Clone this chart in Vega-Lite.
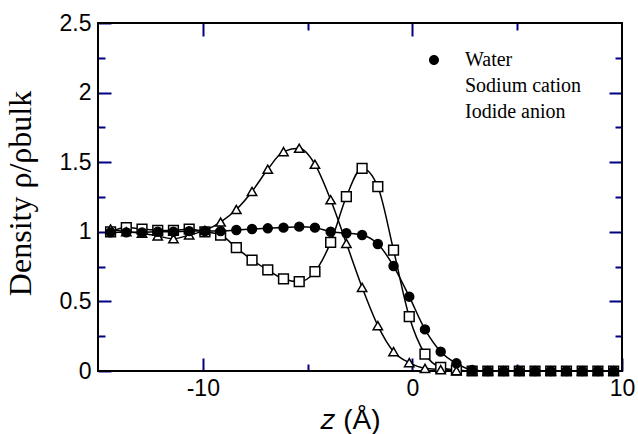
{
  "$schema": "https://vega.github.io/schema/vega-lite/v6.json",
  "width": 524,
  "height": 348,
  "autosize": {"type": "none"},
  "padding": {"left": 98, "top": 23, "right": 16, "bottom": 63},
  "config": {
    "view": {"stroke": "#000080", "strokeWidth": 2},
    "axis": {
      "grid": false,
      "domain": false,
      "labelFont": "Liberation Sans",
      "labelFontSize": 23,
      "labelColor": "black",
      "labelFlush": false,
      "labelOverlap": false,
      "titleColor": "black",
      "titleFontWeight": "normal"
    }
  },
  "data": {
    "values": [
      {"z": -14.4, "Water": 0.996, "Sodium cation": 1.02, "Iodide anion": 1.0},
      {"z": -13.65, "Water": 0.996, "Sodium cation": 1.0, "Iodide anion": 1.03},
      {"z": -12.9, "Water": 0.996, "Sodium cation": 0.99, "Iodide anion": 1.02},
      {"z": -12.15, "Water": 1.0, "Sodium cation": 0.97, "Iodide anion": 1.01},
      {"z": -11.4, "Water": 1.0, "Sodium cation": 0.95, "Iodide anion": 1.01},
      {"z": -10.65, "Water": 1.005, "Sodium cation": 0.977, "Iodide anion": 1.02},
      {"z": -9.9, "Water": 1.005, "Sodium cation": 1.01, "Iodide anion": 1.0},
      {"z": -9.15, "Water": 1.005, "Sodium cation": 1.07, "Iodide anion": 0.977},
      {"z": -8.4, "Water": 1.013, "Sodium cation": 1.16, "Iodide anion": 0.886},
      {"z": -7.65, "Water": 1.02, "Sodium cation": 1.29, "Iodide anion": 0.797},
      {"z": -6.9, "Water": 1.025, "Sodium cation": 1.449, "Iodide anion": 0.726},
      {"z": -6.15, "Water": 1.03, "Sodium cation": 1.576, "Iodide anion": 0.661},
      {"z": -5.4, "Water": 1.037, "Sodium cation": 1.6, "Iodide anion": 0.642},
      {"z": -4.65, "Water": 1.03, "Sodium cation": 1.485, "Iodide anion": 0.714},
      {"z": -3.9, "Water": 1.0, "Sodium cation": 1.23, "Iodide anion": 0.924},
      {"z": -3.15, "Water": 0.99, "Sodium cation": 0.917, "Iodide anion": 1.252},
      {"z": -2.4, "Water": 0.977, "Sodium cation": 0.601, "Iodide anion": 1.456},
      {"z": -1.65, "Water": 0.912, "Sodium cation": 0.326, "Iodide anion": 1.324},
      {"z": -0.9, "Water": 0.754, "Sodium cation": 0.139, "Iodide anion": 0.869},
      {"z": -0.15, "Water": 0.534, "Sodium cation": 0.06, "Iodide anion": 0.39},
      {"z": 0.6, "Water": 0.299, "Sodium cation": 0.019, "Iodide anion": 0.122},
      {"z": 1.35, "Water": 0.139, "Sodium cation": 0.01, "Iodide anion": 0.026},
      {"z": 2.1, "Water": 0.055, "Sodium cation": 0.003, "Iodide anion": 0.007},
      {"z": 2.85, "Water": 0.007, "Sodium cation": 0, "Iodide anion": 0},
      {"z": 3.6, "Water": 0, "Sodium cation": 0, "Iodide anion": 0},
      {"z": 4.35, "Water": 0, "Sodium cation": 0, "Iodide anion": 0},
      {"z": 5.1, "Water": 0, "Sodium cation": 0, "Iodide anion": 0},
      {"z": 5.85, "Water": 0, "Sodium cation": 0, "Iodide anion": 0},
      {"z": 6.6, "Water": 0, "Sodium cation": 0, "Iodide anion": 0},
      {"z": 7.35, "Water": 0, "Sodium cation": 0, "Iodide anion": 0},
      {"z": 8.1, "Water": 0, "Sodium cation": 0, "Iodide anion": 0},
      {"z": 8.85, "Water": 0, "Sodium cation": 0, "Iodide anion": 0},
      {"z": 9.6, "Water": 0, "Sodium cation": 0, "Iodide anion": 0}
    ]
  },
  "transform": [
    {"fold": ["Water", "Sodium cation", "Iodide anion"], "as": ["series", "density"]}
  ],
  "layer": [
    {
      "data": {"values": [{"frame": "plot"}]},
      "mark": {"type": "rect", "fill": null, "fillOpacity": 0, "stroke": "black", "strokeWidth": 2},
      "encoding": {
        "x": {"datum": -15, "type": "quantitative", "axis": null},
        "x2": {"datum": 10},
        "y": {"datum": 0, "type": "quantitative", "axis": null},
        "y2": {"datum": 2.5}
      }
    },
    {
      "mark": {"type": "line", "interpolate": "monotone", "color": "black", "strokeWidth": 1.5},
      "encoding": {
        "x": {
          "field": "z", "type": "quantitative",
          "scale": {"domain": [-15, 10], "nice": false, "zero": false},
          "axis": {
            "orient": "bottom",
            "values": [-10, 0, 10],
            "tickSize": -13,
            "tickColor": "#000080",
            "tickWidth": 2,
            "labelPadding": 19,
            "labelExpr": "'' + datum.value",
            "title": "𝑧 (Å)",
            "titleFont": "Liberation Sans",
            "titleFontSize": 28,
            "titleX": 252,
            "titleY": 57,
            "titleAlign": "center",
            "titleBaseline": "alphabetic"
          }
        },
        "y": {
          "field": "density", "type": "quantitative",
          "scale": {"domain": [0, 2.5], "nice": false},
          "axis": {
            "orient": "left",
            "values": [0, 0.5, 1, 1.5, 2, 2.5],
            "tickSize": -13,
            "tickColor": "#000080",
            "tickWidth": 2,
            "labelPadding": 20,
            "labelExpr": "'' + datum.value",
            "title": "Density    ρ/ρbulk",
            "titleFont": "Liberation Serif",
            "titleFontSize": 32,
            "titleX": -68,
            "titleY": 170,
            "titleAngle": -90,
            "titleAlign": "center",
            "titleBaseline": "alphabetic"
          }
        },
        "detail": {"field": "series"}
      }
    },
    {
      "mark": {"type": "point", "filled": true, "stroke": "black", "strokeWidth": 1.5, "opacity": 1},
      "encoding": {
        "x": {
          "field": "z", "type": "quantitative",
          "axis": {"orient": "top", "values": [-10, 0], "labels": false, "tickSize": -13, "tickColor": "#000080", "tickWidth": 2, "title": null}
        },
        "y": {
          "field": "density", "type": "quantitative",
          "axis": {"orient": "right", "values": [0.5, 1, 1.5, 2], "labels": false, "tickSize": -13, "tickColor": "#000080", "tickWidth": 2, "title": null}
        },
        "order": {"field": "series", "sort": "ascending"},
        "shape": {
          "field": "series",
          "scale": {"domain": ["Water", "Sodium cation", "Iodide anion"], "range": ["circle", "triangle-up", "square"]},
          "legend": null
        },
        "fill": {
          "field": "series",
          "scale": {"domain": ["Water", "Sodium cation", "Iodide anion"], "range": ["black", "white", "white"]},
          "legend": null
        },
        "size": {
          "field": "series",
          "scale": {"domain": ["Water", "Sodium cation", "Iodide anion"], "range": [80, 95, 75]},
          "legend": null
        }
      }
    },
    {
      "transform": [{"filter": "false"}],
      "mark": {"type": "point", "filled": true, "stroke": "#000080", "strokeWidth": 1.5, "opacity": 1},
      "encoding": {
        "x": {
          "field": "z", "type": "quantitative",
          "axis": {"orient": "bottom", "values": [-5, 5], "labels": false, "tickSize": -7, "tickColor": "#000080", "tickWidth": 2, "title": null}
        },
        "y": {
          "field": "density", "type": "quantitative",
          "axis": {"orient": "left", "values": [0.25, 0.75, 1.25, 1.75, 2.25], "labels": false, "tickSize": -7, "tickColor": "#000080", "tickWidth": 2, "title": null}
        },
        "size": {"value": 1600},
        "shape": {
          "field": "series",
          "scale": {
            "domain": ["Water", "Sodium cation", "Iodide anion"],
            "range": [
              "M-1,0H1M0.25,0A0.25,0.25,0,1,1,-0.25,0A0.25,0.25,0,1,1,0.25,0Z",
              "M-1,0H-0.17M0.17,0H1M0,-0.3L0.27,0.17L-0.27,0.17Z",
              "M-1,0H-0.22M0.22,0H1M-0.22,-0.22H0.22V0.22H-0.22Z"
            ]
          },
          "legend": {
            "orient": "none",
            "legendX": 315,
            "legendY": 24,
            "title": null,
            "padding": 0,
            "symbolSize": 1600,
            "symbolStrokeWidth": 1.5,
            "symbolStrokeColor": "#000080",
            "labelFont": "Liberation Serif",
            "labelFontSize": 20,
            "labelColor": "black",
            "labelOffset": 10,
            "clipHeight": 26,
            "rowPadding": 0,
            "encode": {
              "symbols": {
                "update": {
                  "stroke": {"value": "#000080"},
                  "strokeWidth": {"value": 1.5},
                  "opacity": {"value": 1}
                }
              }
            }
          }
        },
        "fill": {
          "field": "series",
          "scale": {"domain": ["Water", "Sodium cation", "Iodide anion"], "range": ["black", "white", "white"]}
        }
      }
    },
    {
      "transform": [{"filter": "false"}],
      "mark": {"type": "point"},
      "encoding": {
        "x": {
          "field": "z", "type": "quantitative",
          "axis": {"orient": "top", "values": [-5, 5], "labels": false, "tickSize": -7, "tickColor": "#000080", "tickWidth": 2, "title": null}
        },
        "y": {
          "field": "density", "type": "quantitative",
          "axis": {"orient": "right", "values": [0.25, 0.75, 1.25, 1.75, 2.25], "labels": false, "tickSize": -7, "tickColor": "#000080", "tickWidth": 2, "title": null}
        }
      }
    }
  ],
  "resolve": {
    "axis": {"x": "independent", "y": "independent"},
    "scale": {"shape": "independent", "fill": "independent", "size": "independent"}
  }
}
